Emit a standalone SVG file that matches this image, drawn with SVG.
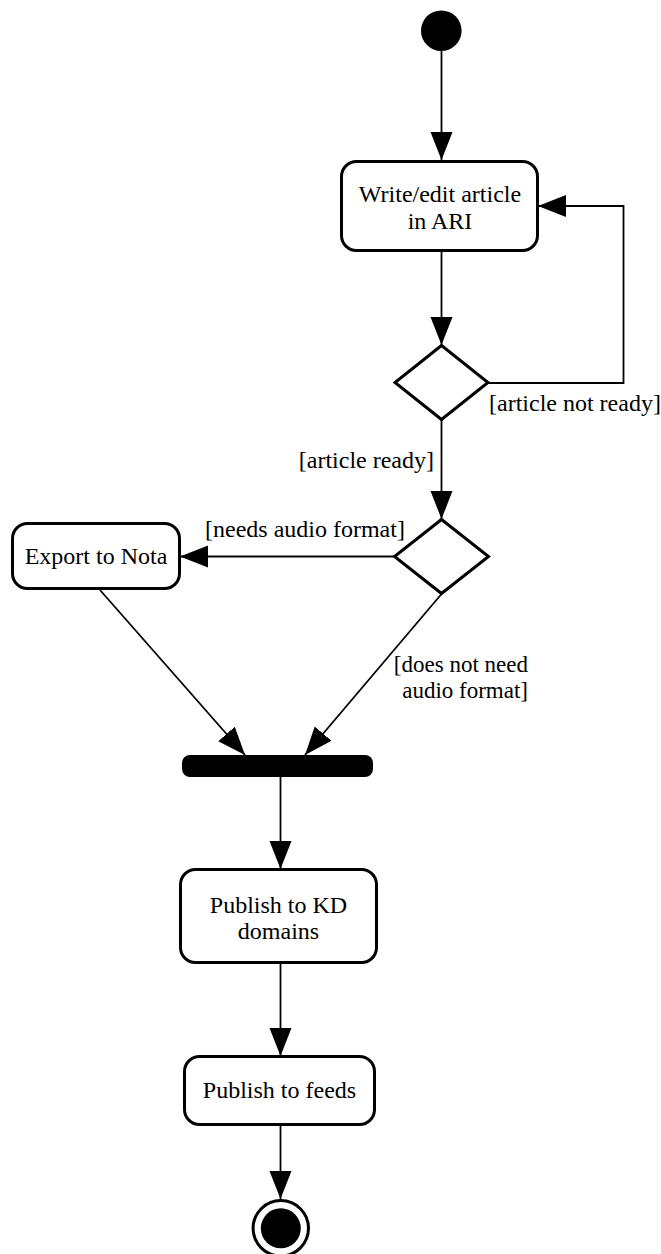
<svg xmlns="http://www.w3.org/2000/svg" width="661" height="1254" viewBox="0 0 661 1254">
<style>
text{font-family:"Liberation Serif","Times New Roman",serif;font-size:24px;fill:#000}
.node{fill:#fff;stroke:#000;stroke-width:3}
.edge{fill:none;stroke:#000;stroke-width:1.8}
</style>
<defs>
<marker id="arr" markerUnits="userSpaceOnUse" markerWidth="30" markerHeight="24" refX="28" refY="11" orient="auto">
<path d="M0,0 L28,11 L0,22 z" fill="#000"/>
</marker>
</defs>
<rect width="661" height="1254" fill="#fff"/>
<g id="edges">
<line class="edge" x1="441.5" y1="51" x2="441.5" y2="160" marker-end="url(#arr)"/>
<line class="edge" x1="441.5" y1="251" x2="441.5" y2="345" marker-end="url(#arr)"/>
<polyline class="edge" points="488,383 623.5,383 623.5,206 538,206" marker-end="url(#arr)"/>
<line class="edge" x1="441.5" y1="420" x2="441.5" y2="519" marker-end="url(#arr)"/>
<line class="edge" x1="394" y1="556.5" x2="180" y2="556.5" marker-end="url(#arr)"/>
<line class="edge" x1="100" y1="590" x2="245" y2="755" marker-end="url(#arr)"/>
<line class="edge" x1="441.5" y1="594" x2="305" y2="755" marker-end="url(#arr)"/>
<line class="edge" x1="280.5" y1="777" x2="280.5" y2="869" marker-end="url(#arr)"/>
<line class="edge" x1="280.5" y1="963" x2="280.5" y2="1056" marker-end="url(#arr)"/>
<line class="edge" x1="280.5" y1="1125" x2="280.5" y2="1199" marker-end="url(#arr)"/>
<text x="489" y="411">[article not ready]</text>
<text x="434" y="468" text-anchor="end">[article ready]</text>
<text x="205" y="537">[needs audio format]</text>
<text x="528" y="672" text-anchor="end" style="font-size:23px">[does not need</text>
<text x="528" y="698" text-anchor="end" style="font-size:23px">audio format]</text>
</g>
<g id="start"><circle cx="441.3" cy="30.7" r="20.3" fill="#000"/></g>
<g id="write"><rect class="node" x="341.5" y="161.5" width="196" height="89" rx="15"/>
<text x="440" y="202" text-anchor="middle">Write/edit article</text>
<text x="440" y="228.5" text-anchor="middle">in ARI</text></g>
<g id="decision1"><polygon class="node" points="441.5,345.5 488,382.5 441.5,419.5 395,382.5"/></g>
<g id="decision2"><polygon class="node" points="441.5,519.5 488.5,556.5 441.5,593.5 394.5,556.5"/></g>
<g id="export"><rect class="node" x="12.5" y="523.5" width="167" height="65" rx="15"/>
<text x="96" y="564" text-anchor="middle">Export to Nota</text></g>
<g id="join"><rect x="182" y="755" width="191" height="22" rx="8" fill="#000"/></g>
<g id="publishkd"><rect class="node" x="180.5" y="869.5" width="196" height="93" rx="15"/>
<text x="278.5" y="913" text-anchor="middle">Publish to KD</text>
<text x="278.5" y="939" text-anchor="middle">domains</text></g>
<g id="feeds"><rect class="node" x="184.5" y="1056.5" width="190" height="68" rx="15"/>
<text x="279.5" y="1098" text-anchor="middle">Publish to feeds</text></g>
<g id="end"><circle cx="280.8" cy="1228.3" r="27.7" fill="#fff" stroke="#000" stroke-width="3"/>
<circle cx="280.8" cy="1228.3" r="20" fill="#000"/></g>
</svg>
